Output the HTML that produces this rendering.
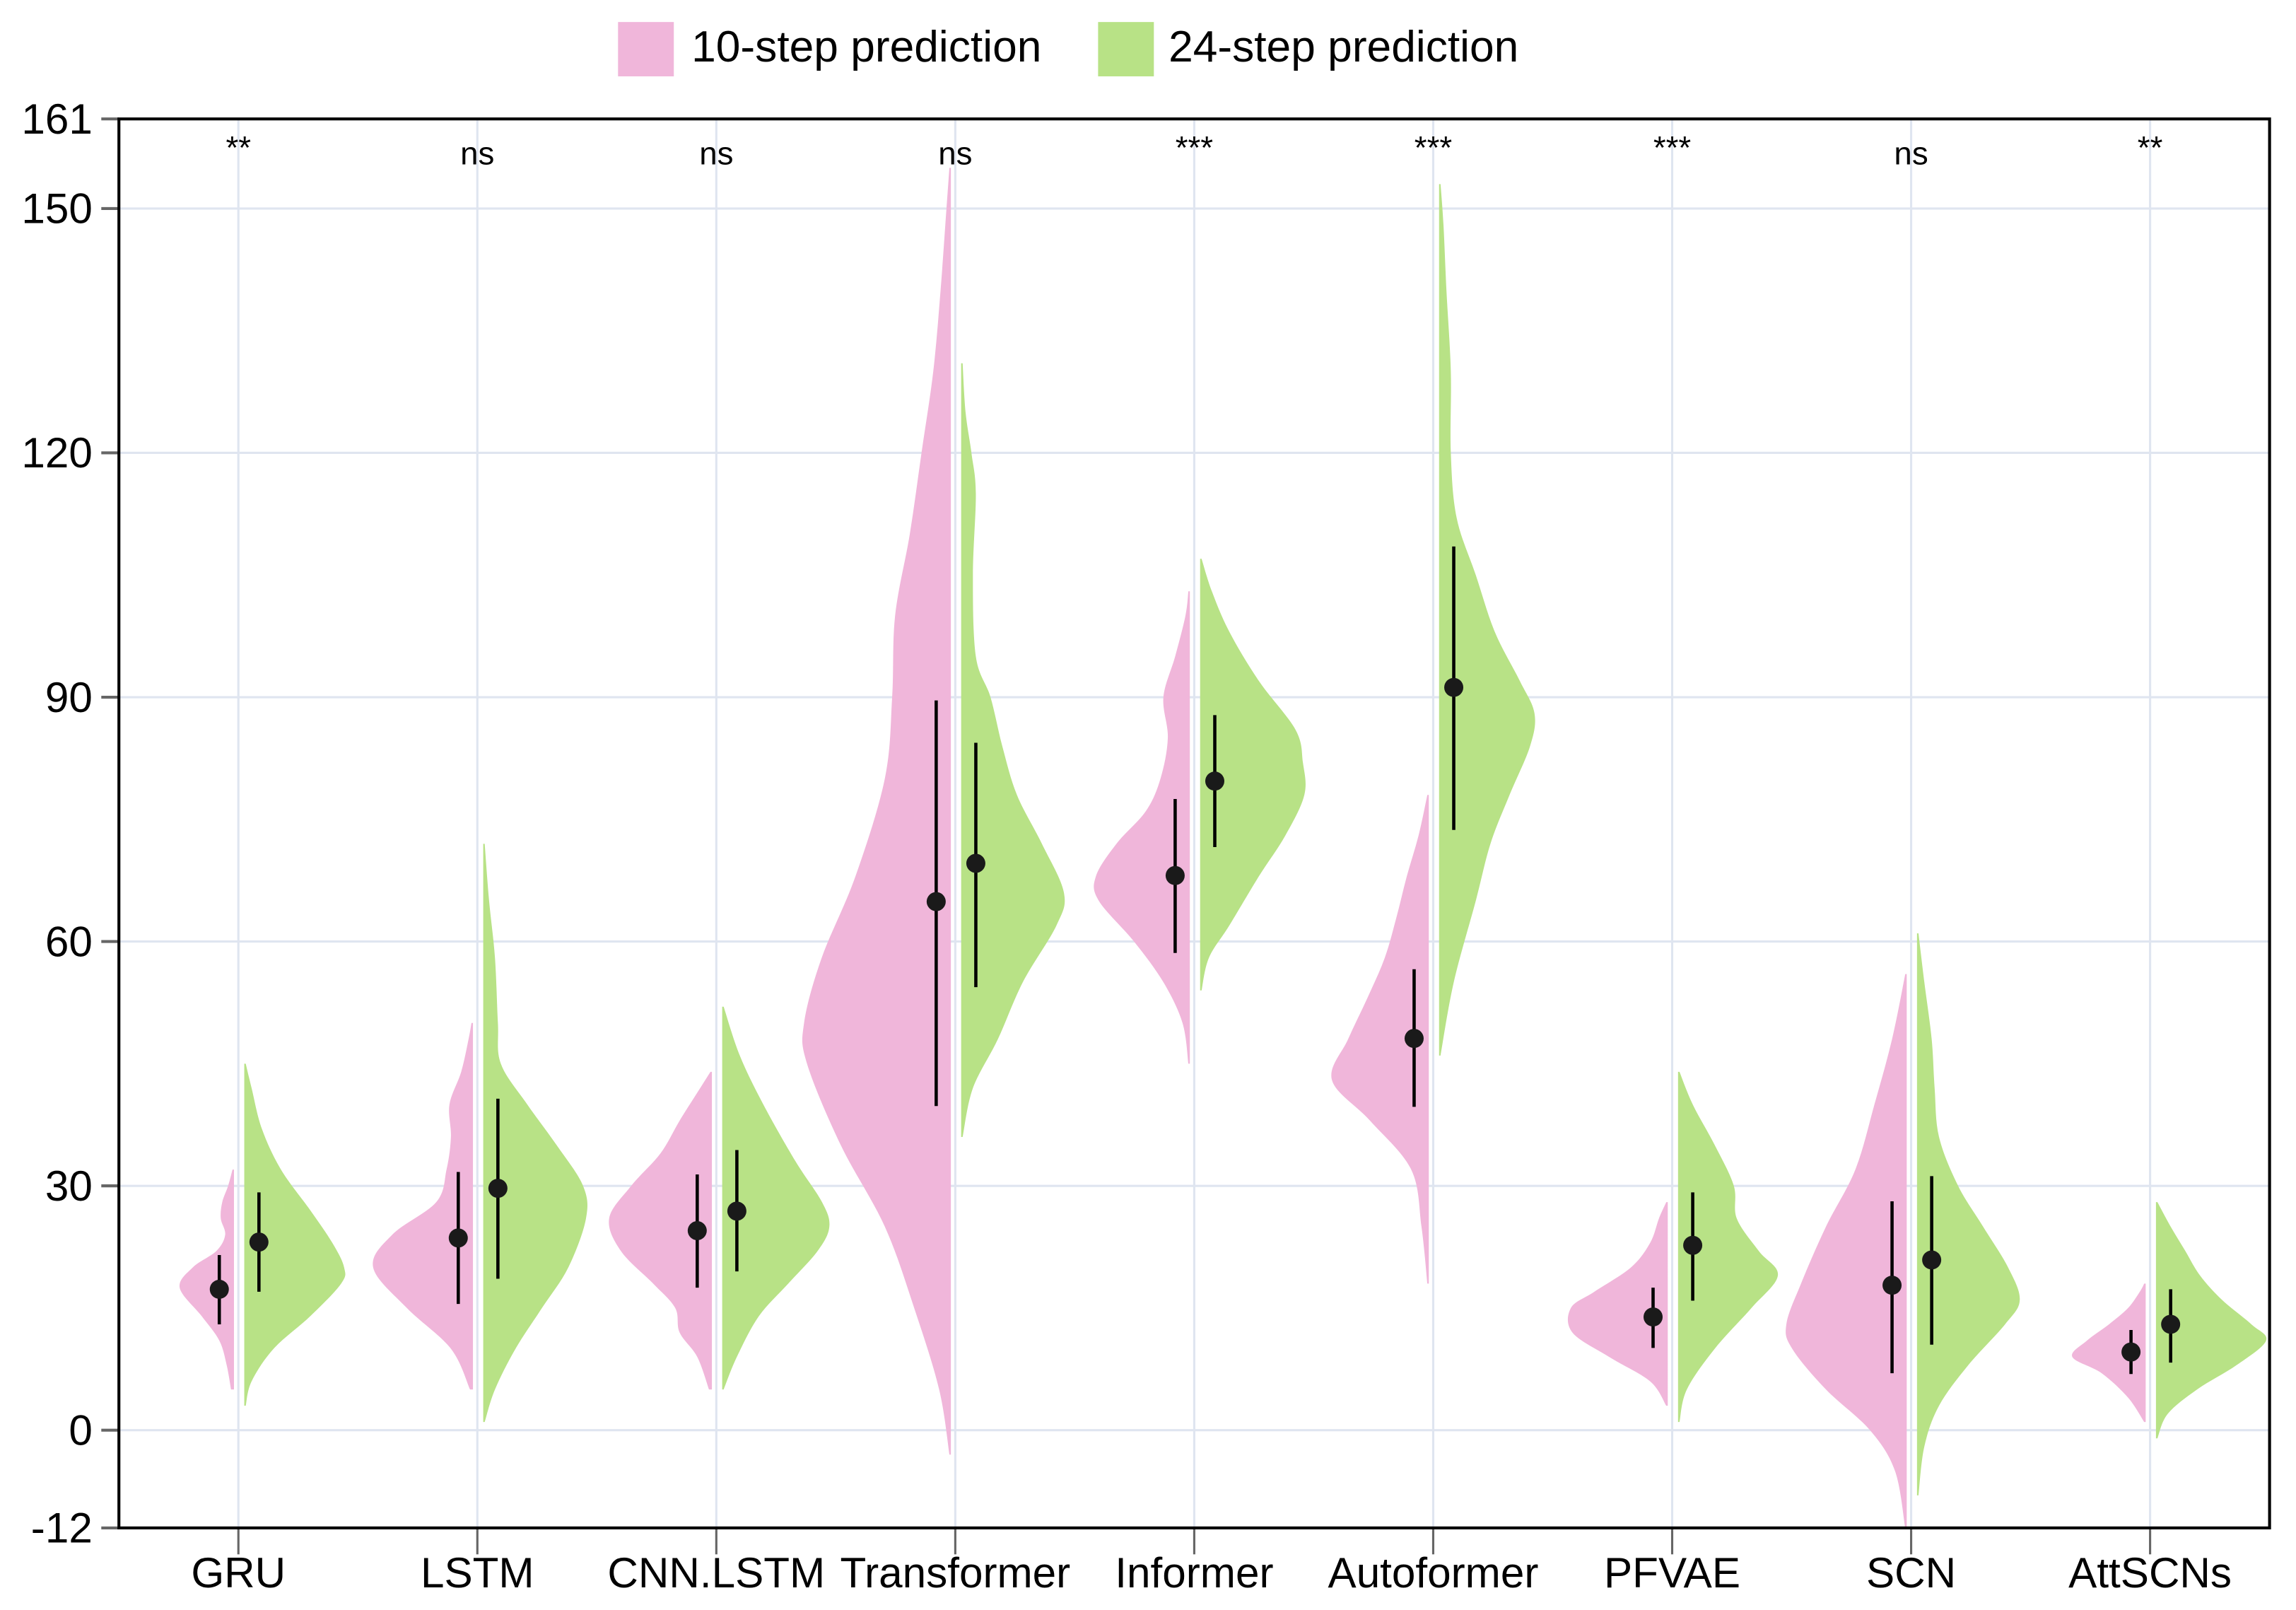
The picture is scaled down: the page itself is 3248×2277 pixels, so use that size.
<!DOCTYPE html>
<html><head><meta charset="utf-8"><style>
html,body{margin:0;padding:0;background:#fff;}
svg{display:block;}
text{font-family:"Liberation Sans",Arial,sans-serif;}
</style></head><body>
<svg id="chart" width="3248" height="2277" viewBox="0 0 1564 1096.5" preserveAspectRatio="none" xmlns="http://www.w3.org/2000/svg">
<g>
<rect x="421" y="15" width="38" height="37" fill="#f0b6da"/>
<text x="471" y="42" font-size="30">10-step prediction</text>
<rect x="748" y="15" width="38" height="37" fill="#b8e286"/>
<text x="796" y="42" font-size="30">24-step prediction</text>
</g>
<g id="grid"></g>
<g id="marks"></g>
<g id="axes"></g>
</svg>
<script>
const categories=["GRU","LSTM","CNN.LSTM","Transformer","Informer","Autoformer","PFVAE","SCN","AttSCNs"];
const sigLabels=["**","ns","ns","ns","***","***","***","ns","**"];
const yTicks=[-12,0,30,60,90,120,150,161];
const mean10=[17.3,23.6,24.5,64.9,68.1,48.1,13.9,17.8,9.6];
const lo10=[13,15.5,17.5,39.8,58.6,39.7,10.1,7,6.9];
const hi10=[21.5,31.7,31.4,89.6,77.5,56.6,17.5,28.1,12.3];
const mean24=[23.1,29.7,26.9,69.6,79.7,91.2,22.7,20.9,13];
const lo24=[17,18.6,19.5,54.4,71.6,73.7,15.9,10.5,8.3];
const hi24=[29.2,40.7,34.4,84.4,87.8,108.5,29.2,31.2,17.3];
// density profiles: [value, relative density]
const dens10=[
[[5,2],[8,5],[11,10],[14,22],[17.5,37],[20,28],[22,12],[24,6],[26,9],[28,8],[30,4],[32,1]],
[[5,2],[10,15],[15,45],[20,68],[24,55],[28,25],[32,18],[36,15],[40,16],[44,8],[48,3],[50,1]],
[[5,2],[9,10],[12,22],[15,25],[18,40],[22,62],[26,70],[30,55],[34,35],[38,22],[42,8],[44,1]],
[[-3,1],[5,8],[15,25],[25,45],[35,75],[45,98],[50,100],[58,88],[68,65],[80,45],[90,40],[100,38],[110,28],[120,20],[130,12],[140,7],[150,3],[155,1]],
[[45,1],[50,5],[55,18],[60,38],[65,62],[68,64],[72,50],[76,30],[80,20],[85,15],[90,18],[95,10],[100,3],[103,1]],
[[18,1],[25,5],[32,12],[38,40],[43,66],[48,55],[53,42],[58,30],[63,22],[68,15],[73,7],[78,1]],
[[3,1],[6,12],[9,40],[12,65],[15,66],[17,50],[20,25],[23,12],[26,6],[28,1]],
[[-12,1],[-5,8],[0,25],[5,55],[10,78],[13,82],[18,72],[25,55],[32,35],[40,22],[48,10],[56,1]],
[[1,1],[4,12],[7,30],[9,50],[11,40],[13,25],[15,12],[17,4],[18,1]]];
const dens24=[
[[3,1],[6,5],[10,20],[14,45],[18,66],[20,68],[23,60],[27,45],[32,25],[37,12],[42,5],[45,1]],
[[1,1],[5,8],[10,22],[15,40],[20,58],[26,70],[30,68],[35,50],[40,30],[45,12],[50,10],[58,8],[65,4],[72,1]],
[[5,1],[9,10],[14,25],[18,45],[22,65],[25,73],[28,68],[33,50],[40,28],[46,12],[52,1]],
[[36,1],[42,8],[48,25],[55,42],[62,65],[66,70],[72,55],[78,38],[84,28],[90,20],[95,10],[105,8],[115,10],[120,7],[125,3],[131,1]],
[[54,1],[58,6],[62,20],[68,40],[73,58],[78,71],[82,70],[86,65],[92,40],[98,20],[103,8],[107,1]],
[[46,1],[55,10],[65,25],[72,35],[78,48],[84,62],[88,65],[92,55],[98,38],[105,25],[112,12],[120,8],[130,8],[140,5],[148,3],[153,1]],
[[1,1],[5,6],[10,25],[15,50],[19,68],[22,55],[26,40],[30,38],[35,25],[40,10],[44,1]],
[[-8,1],[-2,5],[3,15],[8,35],[13,60],[16,70],[20,62],[25,45],[30,28],[36,15],[42,12],[48,10],[55,5],[61,1]],
[[-1,1],[2,8],[5,28],[8,55],[11,75],[13,65],[16,45],[19,30],[22,20],[25,10],[28,1]]];

const NS="http://www.w3.org/2000/svg";
const L=81,R=1546,T=81,B=1040.6,yMin=-12,yMax=161;
const yS=v=>B-(v-yMin)/(yMax-yMin)*(B-T);
const step=(R-L)/categories.length;
const xS=i=>L+step*(i+0.5);
const wS=d=>d*1.0;
function mk(tag,attrs,parent){const e=document.createElementNS(NS,tag);for(const k in attrs)e.setAttribute(k,attrs[k]);parent.appendChild(e);return e;}
const grid=document.getElementById('grid'),marks=document.getElementById('marks'),axes=document.getElementById('axes');
yTicks.forEach(t=>{const g=mk('line',{x1:L,x2:R,y1:yS(t),y2:yS(t),stroke:'#dfe5f0','stroke-width':1.5},grid);

});
categories.forEach((c,i)=>{const g=mk('line',{x1:xS(i),x2:xS(i),y1:T,y2:B,stroke:'#dfe5f0','stroke-width':1.5},grid);

});
function smoothPath(pts){let d='M'+pts[0][0]+','+pts[0][1];
for(let i=0;i<pts.length-1;i++){const p0=pts[Math.max(0,i-1)],p1=pts[i],p2=pts[i+1],p3=pts[Math.min(pts.length-1,i+2)];
const c1=[p1[0]+(p2[0]-p0[0])/6,p1[1]+(p2[1]-p0[1])/6],c2=[p2[0]-(p3[0]-p1[0])/6,p2[1]-(p3[1]-p1[1])/6];
d+=' C'+c1[0]+','+c1[1]+' '+c2[0]+','+c2[1]+' '+p2[0]+','+p2[1];}return d;}
function violin(i,prof,side,color,name){const cx=xS(i)+(side<0?-3:4);
const pts=prof.map(p=>[cx+side*wS(p[1]),yS(p[0])]);
const d='M'+cx+','+yS(prof[0][0])+' L'+smoothPath(pts).slice(1)+' L'+cx+','+yS(prof[prof.length-1][0])+' Z';
const p=mk('path',{d:d,fill:color},marks);

}
function errbar(i,off,m,lo,hi,name){const x=xS(i)+off;
const l=mk('line',{x1:x,x2:x,y1:yS(lo),y2:yS(hi),stroke:'#000','stroke-width':2.2},marks);


const c=mk('circle',{cx:x,cy:yS(m),r:6.5,fill:'#1a1a1a'},marks);

}
categories.forEach((c,i)=>{
violin(i,dens10[i],-1,'#f0b6da','violin-10-step-'+c.toLowerCase());
violin(i,dens24[i],1,'#b8e286','violin-24-step-'+c.toLowerCase());
errbar(i,-13,mean10[i],lo10[i],hi10[i],'10-step-'+c.toLowerCase());
errbar(i,14,mean24[i],lo24[i],hi24[i],'24-step-'+c.toLowerCase());
const s=mk('text',{x:xS(i),y:sigLabels[i]==='ns'?112:108,'font-size':22,'text-anchor':'middle'},axes);
s.textContent=sigLabels[i];


const tk=mk('line',{x1:xS(i),x2:xS(i),y1:B,y2:B+18,stroke:'#666','stroke-width':1.5},axes);


const t=mk('text',{x:xS(i),y:1081,'font-size':29,'text-anchor':'middle'},axes);
t.textContent=c;

});
yTicks.forEach(v=>{const tk=mk('line',{x1:L-12,x2:L,y1:yS(v),y2:yS(v),stroke:'#666','stroke-width':2},axes);


const t=mk('text',{x:63,y:yS(v)+10,'font-size':29,'text-anchor':'end'},axes);
t.textContent=v;

});
const fr=mk('rect',{x:L,y:T,width:R-L,height:B-T,fill:'none',stroke:'#000','stroke-width':2},axes);


</script>
</body></html>
